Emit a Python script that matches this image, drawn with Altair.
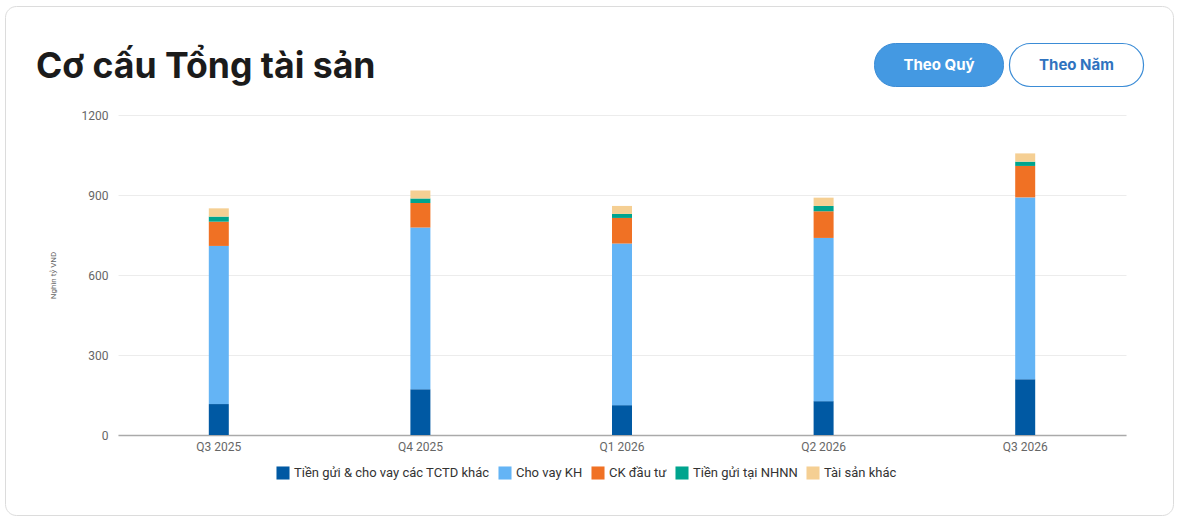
import altair as alt
import pandas as pd

# Quarterly structure of total assets (thousand billion VND)
quarters = ["Q3 2025", "Q4 2025", "Q1 2026", "Q2 2026", "Q3 2026"]
series = ["Tiền gửi & cho vay các TCTD khác", "Cho vay KH", "CK đầu tư",
          "Tiền gửi tại NHNN", "Tài sản khác"]
colors = ["#0059a3", "#64b4f5", "#f07124", "#00a48e", "#f5cf93"]

tien_gui_tctd = [116, 172, 112, 127, 209]
cho_vay_kh = [593, 606, 606, 612, 682]
ck_dau_tu = [91, 92, 96, 100, 118]
tien_gui_nhnn = [19, 17, 15, 20, 16]
tai_san_khac = [31, 30, 30, 31, 31]

y_ticks = [0, 300, 600, 900, 1200]

values = [tien_gui_tctd, cho_vay_kh, ck_dau_tu, tien_gui_nhnn, tai_san_khac]
rows = []
for si, (name, vals) in enumerate(zip(series, values)):
    for q, v in zip(quarters, vals):
        rows.append({"quarter": q, "series": name, "value": v, "order": si})
df = pd.DataFrame(rows)

W, H = 1008, 320
PAD_L, PAD_T = 118, 115
FONT = "Roboto"

bars = alt.Chart(df).mark_bar(size=20).encode(
    x=alt.X("quarter:N", sort=quarters, title=None,
            scale=alt.Scale(paddingInner=0, paddingOuter=0),
            axis=alt.Axis(labelAngle=0, ticks=False, domainColor="#aaaaaa",
                          domainWidth=1.5, labelColor="#666666", labelFontSize=12,
                          labelFont=FONT, labelPadding=6)),
    y=alt.Y("value:Q", stack="zero", title="Nghìn tỷ VND",
            scale=alt.Scale(domain=[0, 1200], nice=False),
            axis=alt.Axis(values=y_ticks, format="d", domain=False, ticks=False,
                          gridColor="#ececec", labelColor="#666666",
                          labelFontSize=12, labelFont=FONT, labelPadding=10,
                          titleFontSize=8, titleFont=FONT, titleColor="#666666",
                          titleFontWeight="normal", titlePadding=24)),
    color=alt.Color("series:N", scale=alt.Scale(domain=series, range=colors),
                    legend=alt.Legend(title=None, orient="none", direction="horizontal",
                                      legendX=158, legendY=351, symbolType="square",
                                      symbolSize=170, symbolStrokeWidth=0,
                                      labelFontSize=13, labelFont=FONT, labelLimit=0,
                                      labelColor="#333333", columnPadding=8,
                                      symbolOffset=0, labelOffset=4)),
    order=alt.Order("order:Q", sort="ascending"),
)

# Card outline around the chart
card = alt.Chart(pd.DataFrame({"k": [0]})).mark_rect(
    filled=False, stroke="#dcdcdc", strokeWidth=1, cornerRadius=11
).encode(
    x=alt.value(5.5 - PAD_L), x2=alt.value(1173.5 - PAD_L),
    y=alt.value(6.5 - PAD_T), y2=alt.value(515.5 - PAD_T),
)

title = alt.Chart(pd.DataFrame({"t": ["Cơ cấu Tổng tài sản"]})).mark_text(
    align="left", baseline="alphabetic", font="Inter", fontSize=35.6,
    fontWeight="bold", color="#1b1b1b"
).encode(x=alt.value(36 - PAD_L), y=alt.value(78 - PAD_T), text="t:N")

btn_quy = alt.Chart(pd.DataFrame({"k": [0]})).mark_rect(
    fill="#4499e2", stroke="#3b8cd6", strokeWidth=1, cornerRadius=21
).encode(x=alt.value(874.5 - PAD_L), x2=alt.value(1003.5 - PAD_L),
         y=alt.value(43.5 - PAD_T), y2=alt.value(86.5 - PAD_T))
btn_nam = alt.Chart(pd.DataFrame({"k": [0]})).mark_rect(
    fill="white", stroke="#3b8cd6", strokeWidth=1.2, cornerRadius=21
).encode(x=alt.value(1009.5 - PAD_L), x2=alt.value(1143.5 - PAD_L),
         y=alt.value(43.5 - PAD_T), y2=alt.value(86.5 - PAD_T))
txt_quy = alt.Chart(pd.DataFrame({"t": ["Theo Quý"]})).mark_text(
    font="Inter", fontSize=15, fontWeight="bold", color="white", baseline="middle"
).encode(x=alt.value(939 - PAD_L), y=alt.value(65 - PAD_T), text="t:N")
txt_nam = alt.Chart(pd.DataFrame({"t": ["Theo Năm"]})).mark_text(
    font="Inter", fontSize=15, fontWeight="bold", color="#2f73bf", baseline="middle"
).encode(x=alt.value(1076.5 - PAD_L), y=alt.value(65 - PAD_T), text="t:N")

chart = alt.layer(card, bars, title, btn_quy, btn_nam, txt_quy, txt_nam).properties(
    width=W, height=H,
    autosize=alt.AutoSizeParams(type="none"),
    padding={"left": PAD_L, "top": PAD_T, "right": 1177 - PAD_L - W,
             "bottom": 527 - PAD_T - H},
    background="white",
).configure_view(stroke=None)

chart.save("out.html", embed_options={"renderer": "svg", "actions": False})
